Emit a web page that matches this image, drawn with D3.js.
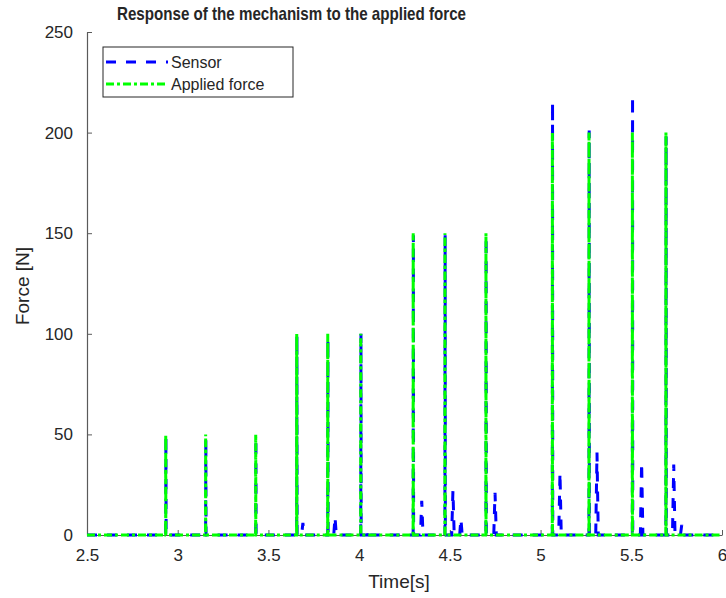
<!DOCTYPE html>
<html>
<head>
<meta charset="utf-8">
<script src="https://cdn.jsdelivr.net/npm/d3@7"></script>
<style>
  html, body { margin: 0; padding: 0; background: #fff; }
  svg { display: block; }
  text { font-family: "Liberation Sans", Arial, sans-serif; fill: #262626; }
</style>
</head>
<body>
<svg id="chart" width="726" height="598"></svg>
<script>
// ---- data ----
const titleText = "Response of the mechanism to the applied force";
const xLabel = "Time[s]";
const yLabel = "Force [N]";
const seriesNames = ["Sensor", "Applied force"];
const xTicks = [2.5, 3, 3.5, 4, 4.5, 5, 5.5, 6];
const yTicks = [0, 50, 100, 150, 200, 250];

// force pulses: time of pulse and peak value
const pulseTimes   = [2.934, 3.154, 3.430, 3.656, 3.827, 4.009, 4.298, 4.473, 4.699, 5.065, 5.267, 5.506, 5.691];
const appliedPeaks = [50, 50, 50, 100, 100, 100, 150, 150, 150, 200, 200, 200, 200];
const sensorPeaks  = [49, 48, 48, 99, 97, 100, 149, 149, 148, 215, 201, 218, 198];

// sensor after-oscillations (ringing) following the pulses
const ringTimes  = [3.690, 3.867, 4.054, 4.345, 4.517, 4.561, 4.749, 5.107, 5.311, 5.557, 5.734, 5.778];
const ringValues = [6, 9, 3, 17, 22, 8, 21, 31, 41, 36, 35, 5];

// ---- build line series from the read values ----
function buildApplied() {
  const pts = [[2.5, 0]];
  pulseTimes.forEach((t, i) => {
    pts.push([t - 0.0005, 0], [t, appliedPeaks[i]], [t + 0.0005, 0]);
  });
  pts.push([6, 0]);
  return pts;
}
function buildSensor() {
  const ev = [];
  pulseTimes.forEach((t, i) => ev.push({t: t + 0.001, v: sensorPeaks[i], w: 0.0012}));
  ringTimes.forEach((t, i) => ev.push({t: t, v: ringValues[i], w: 0.007}));
  ev.sort((a, b) => a.t - b.t);
  const pts = [[2.5, 0]];
  ev.forEach(e => pts.push([e.t - e.w, 0], [e.t, e.v], [e.t + e.w, 0]));
  pts.push([6, 0]);
  return pts;
}
const sensorData = buildSensor();
const appliedData = buildApplied();

// ---- layout ----
const svg = d3.select("#chart");
const x = d3.scaleLinear().domain([2.5, 6]).range([87, 722]);
const y = d3.scaleLinear().domain([0, 250]).range([535, 32]);

const line = d3.line().x(d => x(d[0])).y(d => y(d[1]));

// axes (inward ticks, no box)
const axisColor = "#5a5a5a";
const xAxis = svg.append("g").attr("transform", `translate(0,${y(0)})`)
  .call(d3.axisBottom(x).tickValues(xTicks).tickSizeInner(-5).tickSizeOuter(0).tickPadding(10)
        .tickFormat(d3.format("")));
const yAxis = svg.append("g").attr("transform", `translate(${x(2.5)},0)`)
  .call(d3.axisLeft(y).tickValues(yTicks).tickSizeInner(-5).tickSizeOuter(0).tickPadding(14)
        .tickFormat(d3.format("")));
[xAxis, yAxis].forEach(g => {
  g.select(".domain").attr("stroke", axisColor).attr("stroke-width", 1.2);
  g.selectAll(".tick line").attr("stroke", axisColor).attr("stroke-width", 1);
  g.selectAll(".tick text").attr("font-size", 17).attr("fill", "#262626")
    .attr("font-family", "'Liberation Sans', Arial, sans-serif");
});
xAxis.selectAll(".tick text").attr("dy", "0.95em");

// series lines
svg.append("path").datum(sensorData)
  .attr("d", line).attr("fill", "none")
  .attr("stroke", "#0000ff").attr("stroke-width", 3)
  .attr("stroke-dasharray", "10,10").attr("stroke-linejoin", "miter");
svg.append("path").datum(appliedData)
  .attr("d", line).attr("fill", "none")
  .attr("stroke", "#00ff00").attr("stroke-width", 3)
  .attr("stroke-dasharray", "8,3,3,3").attr("stroke-linejoin", "miter");

// title
svg.append("text").attr("x", 117).attr("y", 20)
  .attr("font-size", 19).attr("font-weight", "bold").attr("fill", "#000")
  .attr("textLength", 349).attr("lengthAdjust", "spacingAndGlyphs")
  .text(titleText);

// axis labels
svg.append("text").attr("x", 399).attr("y", 588).attr("text-anchor", "middle")
  .attr("font-size", 19).text(xLabel);
svg.append("text").attr("transform", "translate(29,286) rotate(-90)")
  .attr("text-anchor", "middle").attr("font-size", 19).text(yLabel);

// legend
const lg = svg.append("g");
lg.append("rect").attr("x", 103).attr("y", 47).attr("width", 190).attr("height", 50)
  .attr("fill", "#fff").attr("stroke", "#262626").attr("stroke-width", 1);
const legendStyles = [
  {color: "#0000ff", dash: "10,10"},
  {color: "#00ff00", dash: "8,3,3,3"}
];
seriesNames.forEach((name, i) => {
  const yy = 62 + i * 22;
  lg.append("line").attr("x1", 106).attr("x2", 168).attr("y1", yy).attr("y2", yy)
    .attr("stroke", legendStyles[i].color).attr("stroke-width", 3)
    .attr("stroke-dasharray", legendStyles[i].dash);
  lg.append("text").attr("x", 171).attr("y", yy + 6).attr("font-size", 16)
    .attr("fill", "#000").text(name);
});
</script>
</body>
</html>
